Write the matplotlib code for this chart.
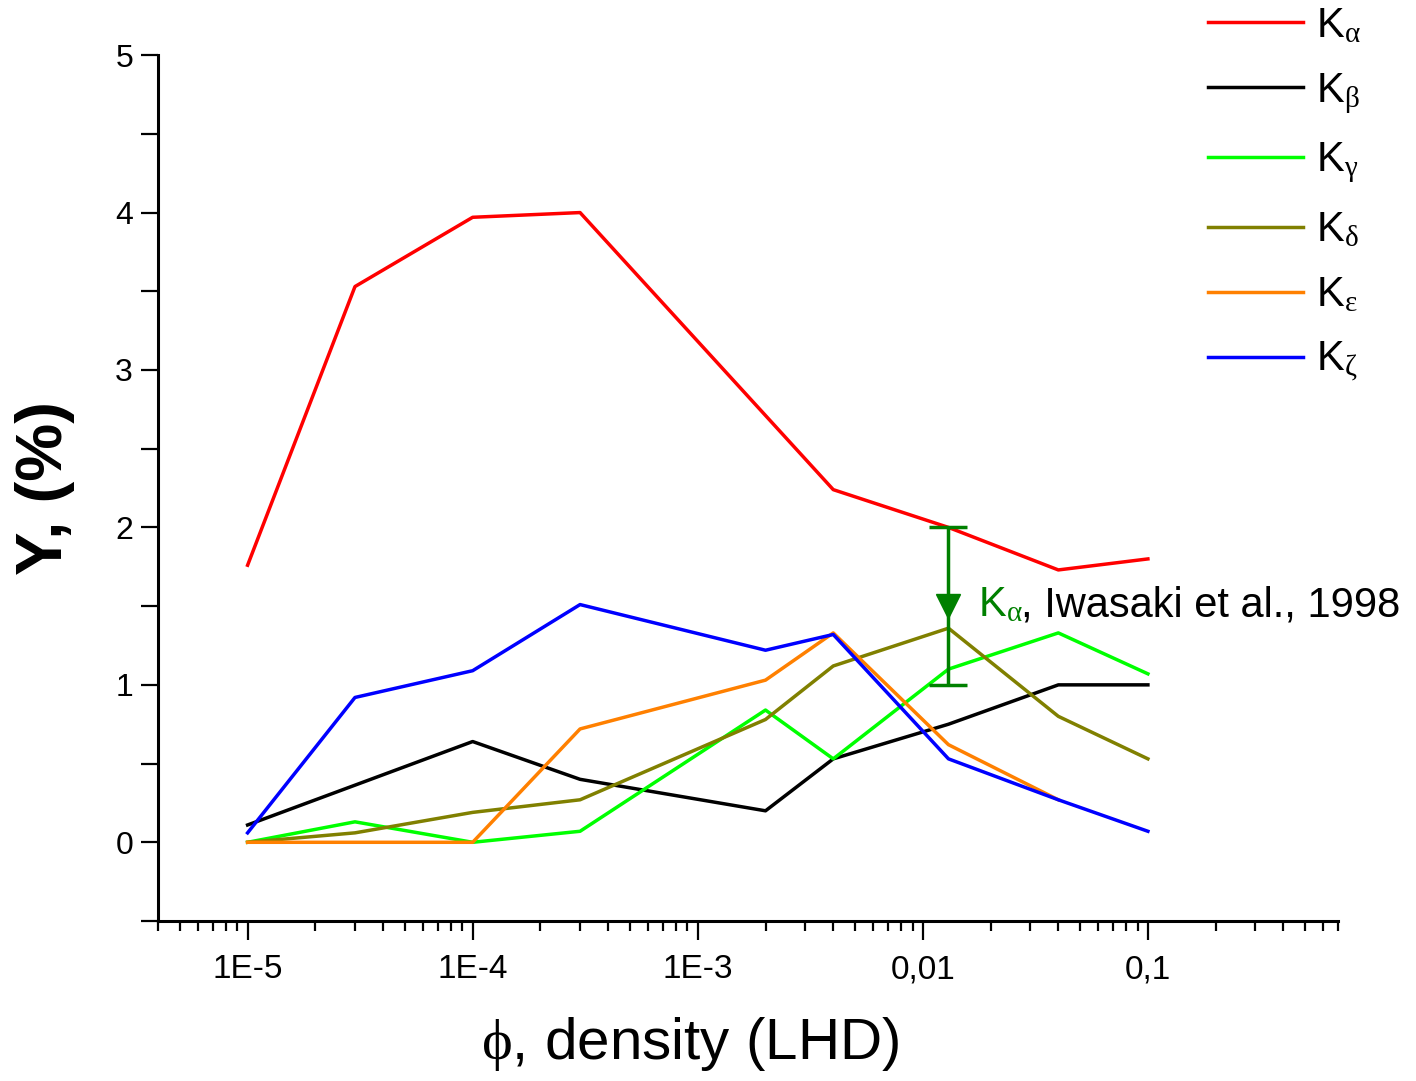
import numpy as np
import matplotlib
matplotlib.use("Agg")
import matplotlib.pyplot as plt
from matplotlib.ticker import LogLocator, FixedLocator, MultipleLocator, NullFormatter

plt.rcParams["font.family"] = ["Liberation Sans", "DejaVu Sans"]
plt.rcParams["mathtext.fontset"] = "custom"
plt.rcParams["mathtext.rm"] = "Liberation Serif"
plt.rcParams["mathtext.it"] = "Liberation Serif"

# density values (LHD)
phi = [1e-5, 3e-5, 1e-4, 3e-4, 2e-3, 4e-3, 1.3e-2, 4e-2, 1e-1]

# yields, %
k_alpha = [1.76, 3.53, 3.97, 4.00, None, 2.24, 2.00, 1.73, 1.80]
k_beta = [0.11, None, 0.64, 0.40, 0.20, 0.53, 0.75, 1.00, 1.00]
k_gamma = [0.00, 0.13, 0.00, 0.07, 0.84, 0.53, 1.10, 1.33, 1.07]
k_delta = [0.00, 0.06, 0.19, 0.27, 0.78, 1.12, 1.36, 0.80, 0.53]
k_eps = [0.00, 0.00, 0.00, 0.72, 1.03, 1.33, 0.62, 0.27, None]
k_zeta = [0.06, 0.92, 1.09, 1.51, 1.22, 1.32, 0.53, 0.27, 0.07]

series = [
    (r"K$_\alpha$", k_alpha, "#ff0000"),
    (r"K$_\beta$", k_beta, "#000000"),
    (r"K$_\gamma$", k_gamma, "#00ff00"),
    (r"K$_\delta$", k_delta, "#808000"),
    (r"K$_\epsilon$", k_eps, "#ff8000"),
    (r"K$_\zeta$", k_zeta, "#0000ff"),
]

# Iwasaki et al., 1998 reference point
ref_x = 1.3e-2
ref_y = 1.5
ref_err = 0.5


def main():
    fig = plt.figure(figsize=(14.16, 10.81), dpi=100)
    ax = fig.add_axes([0.1116, 0.148, 0.8334, 0.801])

    for label, vals, color in series:
        xs = [x for x, v in zip(phi, vals) if v is not None]
        ys = [v for v in vals if v is not None]
        ax.plot(xs, ys, color=color, lw=2.5, label=label)

    ax.errorbar([ref_x], [ref_y], yerr=[ref_err], fmt="v", color="#008000",
                ms=17, lw=2.5, capsize=14, capthick=2.5, zorder=5)
    ax.text(1.755e-2, 1.434, r"K$_\alpha$", color="#008000", fontsize=30,
            va="baseline", ha="left")
    ax.text(2.73e-2, 1.434, ", Iwasaki et al., 1998", color="black",
            fontsize=30, va="baseline", ha="left")

    ax.set_xscale("log")
    ax.set_xlim(4e-6, 0.7)
    ax.set_ylim(-0.5, 5)

    ax.xaxis.set_major_locator(FixedLocator([1e-5, 1e-4, 1e-3, 1e-2, 1e-1]))
    ax.set_xticklabels(["1E-5", "1E-4", "1E-3", "0,01", "0,1"])
    ax.xaxis.set_minor_locator(LogLocator(base=10, subs=np.arange(2, 10), numticks=20))
    ax.xaxis.set_minor_formatter(NullFormatter())

    ax.yaxis.set_major_locator(FixedLocator([0, 1, 2, 3, 4, 5]))
    ax.yaxis.set_minor_locator(MultipleLocator(0.5))

    for s in ["top", "right"]:
        ax.spines[s].set_visible(False)
    for s in ["left", "bottom"]:
        ax.spines[s].set_linewidth(2.2)

    ax.tick_params(axis="x", which="major", direction="out", length=14, width=1.6,
                   labelsize=24, pad=10)
    ax.tick_params(axis="x", which="minor", direction="out", length=7, width=1.6)
    ax.tick_params(axis="y", which="both", direction="out", length=12, width=1.6,
                   labelsize=23, pad=6)

    ax.set_xlabel(r"$\phi$, density (LHD)", fontsize=42)
    ax.xaxis.set_label_coords(0.451, -0.108)
    ax.set_ylabel("Y, (%)", fontsize=47, fontweight="bold")
    ax.yaxis.set_label_coords(-0.070, 0.5)

    fig.legend(loc="upper left", bbox_to_anchor=(0.841, 1.01), frameon=False,
               fontsize=30, handlelength=2.3, handletextpad=0.3, labelspacing=0.6,
               borderaxespad=0)

    fig.savefig("out.png", dpi=100)


if __name__ == "__main__":
    main()
